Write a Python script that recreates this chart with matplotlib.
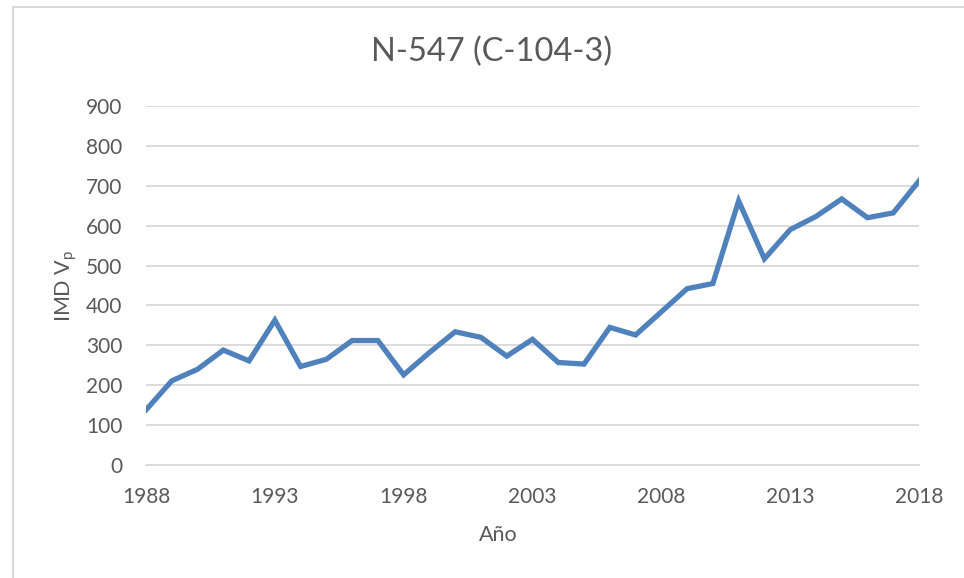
import matplotlib
matplotlib.use("Agg")
import matplotlib.pyplot as plt
from matplotlib.lines import Line2D

plt.rcParams['font.family'] = ['Lato', 'DejaVu Sans']
plt.rcParams['mathtext.fontset'] = 'custom'
plt.rcParams['mathtext.rm'] = 'Lato'
plt.rcParams['mathtext.it'] = 'Lato'

# data
years = list(range(1988, 2019))
imd = [138, 211, 240, 288, 261, 363, 247, 265, 312, 312,
       226, 282, 334, 320, 273, 315, 257, 253, 345, 326,
       384, 442, 455, 662, 517, 590, 623, 667, 620, 632, 712]
xticks = [1988, 1993, 1998, 2003, 2008, 2013, 2018]
yticks = [0, 100, 200, 300, 400, 500, 600, 700, 800, 900]

txt = '#595959'
grid = '#d9d9d9'

fig = plt.figure(figsize=(9.64, 5.78), dpi=100)
ax = fig.add_axes([146/964, 1 - 465/578, (919 - 146)/964, (465 - 106)/578])

ax.plot(years, imd, color='#4f81bd', lw=3.8, solid_joinstyle='miter', zorder=3)

ax.set_xlim(1988, 2018)
ax.set_ylim(0, 900)
ax.set_xticks(xticks)
ax.set_yticks(yticks)
ax.yaxis.grid(True, color=grid, lw=1.3)
ax.set_axisbelow(True)
for s in ['top', 'right', 'left']:
    ax.spines[s].set_visible(False)
ax.spines['bottom'].set_color(grid)
ax.spines['bottom'].set_linewidth(1.3)
ax.tick_params(length=0, labelsize=15, labelcolor=txt)
ax.tick_params(axis='y', pad=17)
ax.tick_params(axis='x', pad=16)

fig.text(492/964, 1 - 52/578, 'N-547 (C-104-3)', ha='center', va='center',
         fontsize=23.5, color=txt)
fig.text(498/964, 1 - 535/578, 'Año', ha='center', va='center',
         fontsize=15.5, color=txt)
fig.text(66/964, 1 - 286/578, r'IMD V$_\mathrm{p}$', ha='center', va='center',
         rotation=90, fontsize=15.5, color=txt)

# chart border (only left and top edges visible in the crop)
fig.add_artist(Line2D([13/964, 13/964], [0, 1 - 7/578], color=grid, lw=1.5))
fig.add_artist(Line2D([13/964, 1], [1 - 7/578, 1 - 7/578], color=grid, lw=1.5))

fig.savefig('out.png', dpi=100)
